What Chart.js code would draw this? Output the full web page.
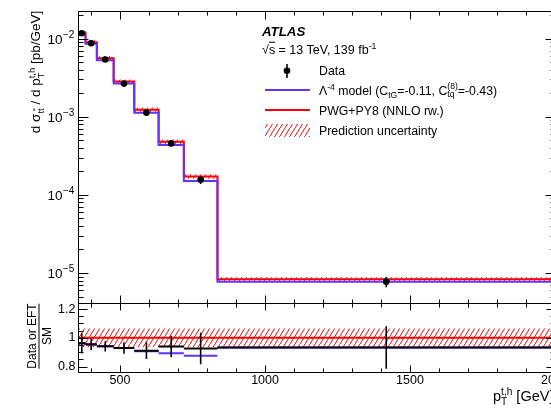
<!DOCTYPE html>
<html><head><meta charset="utf-8">
<script src="https://cdn.jsdelivr.net/npm/chart.js@4.4.1/dist/chart.umd.min.js"></script>
<style>
html,body{margin:0;padding:0;background:#fff;overflow:hidden;}
#wrap{position:relative;width:551px;height:410px;overflow:hidden;font-family:"Liberation Sans",Arial,Helvetica,sans-serif;color:#000;background:#fff;}
canvas{position:absolute;left:0;top:0;}
.t{position:absolute;white-space:nowrap;line-height:1;transform:translateY(-50%);}
.sup{font-size:70%;vertical-align:0.55em;line-height:0;}
.sub{font-size:70%;vertical-align:-0.35em;line-height:0;}
.ss{display:inline-block;font-size:70%;line-height:1;vertical-align:-0.4em;text-align:left;}
.ss span{display:block;}
.rot{position:absolute;white-space:nowrap;line-height:1;transform:translate(-50%,-50%) rotate(-90deg);}
</style></head>
<body>
<div id="wrap">
<canvas id="mainC" width="565" height="410"></canvas>
<canvas id="ratioC" width="565" height="410"></canvas>

<div class="rot" style="left:36px;top:72px;font-size:13.5px;">d σ<span class="sub">t<span style="text-decoration:overline">t</span></span> / d p<span class="ss"><span>t,h</span><span>T</span></span> [pb/GeV]</div>
<div class="rot" style="left:39px;top:336px;font-size:12px;text-align:center;"><div style="border-bottom:1px solid #000;padding-bottom:1px;">Data or EFT</div><div style="padding-top:1px;">SM</div></div>
<div class="t" style="left:493px;top:397px;font-size:14.5px;">p<span class="ss"><span>t,h</span><span>T</span></span> [GeV]</div>

<div class="t" style="left:262px;top:32px;font-size:13.3px;font-weight:bold;font-style:italic;">ATLAS</div>
<div class="t" style="left:262px;top:50px;font-size:12.5px;">√<span style="text-decoration:overline">s</span> = 13 TeV, 139 fb<span class="sup">-1</span></div>
<div class="t" style="left:319px;top:70.5px;font-size:12.3px;">Data</div>
<div class="t" style="left:319px;top:90.5px;font-size:12.3px;">Λ<span class="sup">-4</span> model (C<span class="sub">tG</span>=-0.11, C<span class="ss"><span>(8)</span><span>tq</span></span>=-0.43)</div>
<div class="t" style="left:319px;top:110.5px;font-size:12.3px;">PWG+PY8 (NNLO rw.)</div>
<div class="t" style="left:319px;top:130.5px;font-size:12.3px;">Prediction uncertainty</div>
<canvas id="legC" width="551" height="150" style="left:0;top:0;"></canvas>
</div>
<script>
// ---------- data ----------
const binEdges   = [355, 381, 420, 478, 549, 633, 720, 836, 2000];
const smPred     = [1.183e-2, 8.97e-3, 5.60e-3, 2.81e-3, 1.23e-3, 4.78e-4, 1.72e-4, 8.3e-6];
const eftPred    = [1.125e-2, 8.55e-3, 5.27e-3, 2.65e-3, 1.12e-3, 4.33e-4, 1.50e-4, 7.75e-6];
const dataXsec   = [1.17e-2, 8.7e-3, 5.4e-3, 2.65e-3, 1.125e-3, 4.55e-4, 1.56e-4, 7.75e-6];
const dataRelErr = [0.04, 0.03, 0.03, 0.035, 0.045, 0.05, 0.12, 0.15];
const predRelUnc = [0.065, 0.065, 0.065, 0.065, 0.065, 0.065, 0.065, 0.065];
const ratioData    = [0.962, 0.955, 0.941, 0.930, 0.911, 0.940, 0.926, 0.933];
const ratioDataErr = [0.070, 0.040, 0.035, 0.040, 0.058, 0.075, 0.110, 0.148];
const ratioEft     = [0.962, 0.953, 0.941, 0.930, 0.907, 0.893, 0.876, 0.933];
const ratioSm      = [1, 1, 1, 1, 1, 1, 1, 1];
const xTickValues  = [500, 1000, 1500, 2000];
const xTickLabels  = ['500', '1000', '1500', '2000'];
const yTickValues  = [1e-2, 1e-3, 1e-4, 1e-5];
const yTickExps    = ['\u22122', '\u22123', '\u22124', '\u22125'];
const ratioTickValues = [0.8, 1, 1.2];
const ratioTickLabels = ['0.8', '1', '1.2'];

const RED = '#ff0000', BLUE = '#6432ff';
const FONT = '"Liberation Sans", Arial, Helvetica, sans-serif';

const centers = binEdges.slice(0, -1).map((e, i) => (e + binEdges[i + 1]) / 2);
function stepPts(vals) {
  const p = vals.map((v, i) => ({x: binEdges[i], y: v}));
  p.push({x: binEdges[vals.length], y: vals[vals.length - 1]});
  return p;
}
function segPts(vals) {
  const p = [];
  vals.forEach((v, i) => { p.push({x: binEdges[i], y: v}, {x: binEdges[i + 1], y: v}, {x: binEdges[i + 1], y: null}); });
  return p;
}
function vbarPts(vals, lo, hi) {
  const p = [];
  vals.forEach((v, i) => { p.push({x: centers[i], y: lo[i]}, {x: centers[i], y: hi[i]}, {x: centers[i], y: null}); });
  return p;
}
function hatchPattern(ctx) {
  const c = document.createElement('canvas'); c.width = 5; c.height = 8;
  const g = c.getContext('2d');
  g.strokeStyle = RED; g.lineWidth = 1;
  g.beginPath(); g.moveTo(-5, 16); g.lineTo(10, -8); g.stroke();
  return ctx.createPattern(c, 'repeat');
}

function axesPlugin(cfg) {
  return {
    id: 'axesFrame',
    afterDraw(chart) {
      const {ctx, chartArea: a, scales} = chart;
      const xs = scales.x, ys = scales.y;
      ctx.save();
      ctx.strokeStyle = '#000'; ctx.lineWidth = 1;
      const L = Math.round(a.left) + 0.5, R = Math.round(a.right) + 0.5;
      const T = Math.round(a.top) + 0.5, B = Math.round(a.bottom) + 0.5;
      ctx.beginPath();
      ctx.moveTo(L, T); ctx.lineTo(R, T); ctx.lineTo(R, B); ctx.lineTo(L, B); ctx.closePath();
      for (let v = 400; v <= 2000; v += 100) {
        const px = Math.round(xs.getPixelForValue(v)) + 0.5;
        const len = (v % 500 === 0) ? cfg.xMaj : cfg.xMin;
        ctx.moveTo(px, B); ctx.lineTo(px, B - len);
        ctx.moveTo(px, T); ctx.lineTo(px, T + len);
      }
      cfg.yTicks(ys).forEach(([v, major]) => {
        const py = Math.round(ys.getPixelForValue(v)) + 0.5;
        const len = major ? cfg.yMaj : cfg.yMin;
        ctx.moveTo(L, py); ctx.lineTo(L + len, py);
        ctx.moveTo(R, py); ctx.lineTo(R - len, py);
      });
      ctx.stroke();
      ctx.fillStyle = '#000';
      cfg.labels(ctx, xs, ys, a);
      ctx.restore();
    }
  };
}

Chart.defaults.font.family = FONT;

// ---------------- main panel ----------------
const mctx = document.getElementById('mainC').getContext('2d');
const hatchMain = hatchPattern(mctx);
const yMin = 4.13e-6, yMax = 2.249e-2;
new Chart(mctx, {
  type: 'line',
  data: {
    datasets: [
      {data: centers.map((c, i) => ({x: c, y: dataXsec[i]})), showLine: false, pointRadius: 3.3, pointBackgroundColor: '#000', pointBorderWidth: 0, pointStyle: 'circle'},
      {data: vbarPts(dataXsec, dataXsec.map((v, i) => v * (1 - dataRelErr[i])), dataXsec.map((v, i) => v * (1 + dataRelErr[i]))), borderColor: '#000', borderWidth: 1.6, pointRadius: 0, spanGaps: false},
      {data: stepPts(eftPred), stepped: true, borderColor: BLUE, borderWidth: 2, pointRadius: 0},
      {data: stepPts(smPred), stepped: true, borderColor: RED, borderWidth: 2, pointRadius: 0},
      {data: stepPts(smPred.map((v, i) => v * (1 + predRelUnc[i]))), stepped: true, borderWidth: 0, borderColor: 'rgba(0,0,0,0)', pointRadius: 0, fill: '+1', backgroundColor: hatchMain},
      {data: stepPts(smPred.map((v, i) => v * (1 - predRelUnc[i]))), stepped: true, borderWidth: 0, borderColor: 'rgba(0,0,0,0)', pointRadius: 0, fill: false}
    ]
  },
  options: {
    responsive: false, animation: false, devicePixelRatio: 1,
    layout: {padding: {left: 0, right: 10, top: 11, bottom: 107}},
    plugins: {legend: {display: false}, tooltip: {enabled: false}, filler: {propagate: false}},
    scales: {
      x: {type: 'linear', min: 355, max: 2000, ticks: {display: false}, grid: {display: false}, border: {display: false}, afterFit: s => { s.height = 0; }},
      y: {type: 'logarithmic', min: yMin, max: yMax, ticks: {display: false}, grid: {display: false}, border: {display: false}, afterFit: s => { s.width = 78; }}
    }
  },
  plugins: [axesPlugin({
    xMaj: 8, xMin: 4, yMaj: 10, yMin: 5,
    yTicks: () => {
      const t = [];
      for (let k = -6; k <= -1; k++) for (let m = 1; m <= 9; m++) {
        const v = m * Math.pow(10, k);
        if (v >= yMin && v <= yMax) t.push([v, m === 1]);
      }
      return t;
    },
    labels: (ctx, xs, ys) => {
      yTickValues.forEach((v, i) => {
        const py = ys.getPixelForValue(v);
        ctx.font = '13.5px ' + FONT; ctx.textAlign = 'right'; ctx.textBaseline = 'middle';
        ctx.fillText('10', 62.5, py + 1.5);
        ctx.font = '10px ' + FONT; ctx.textAlign = 'left';
        ctx.fillText(yTickExps[i], 63, py - 3.5);
      });
    }
  })]
});

// ---------------- ratio panel ----------------
const rctx = document.getElementById('ratioC').getContext('2d');
const hatchRatio = hatchPattern(rctx);
new Chart(rctx, {
  type: 'line',
  data: {
    datasets: [
      {data: segPts(ratioData), borderColor: '#000', borderWidth: 2, pointRadius: 0, spanGaps: false},
      {data: vbarPts(ratioData, ratioData.map((v, i) => v - ratioDataErr[i]), ratioData.map((v, i) => v + ratioDataErr[i])), borderColor: '#000', borderWidth: 1.6, pointRadius: 0, spanGaps: false},
      {data: segPts(ratioEft), borderColor: BLUE, borderWidth: 2, pointRadius: 0, spanGaps: false},
      {data: stepPts(ratioSm), stepped: true, borderColor: RED, borderWidth: 2, pointRadius: 0},
      {data: stepPts(ratioSm.map((v, i) => v + predRelUnc[i])), stepped: true, borderWidth: 0, borderColor: 'rgba(0,0,0,0)', pointRadius: 0, fill: '+1', backgroundColor: hatchRatio},
      {data: stepPts(ratioSm.map((v, i) => v - predRelUnc[i])), stepped: true, borderWidth: 0, borderColor: 'rgba(0,0,0,0)', pointRadius: 0, fill: false}
    ]
  },
  options: {
    responsive: false, animation: false, devicePixelRatio: 1,
    layout: {padding: {left: 0, right: 10, top: 303, bottom: 38}},
    plugins: {legend: {display: false}, tooltip: {enabled: false}, filler: {propagate: false}},
    scales: {
      x: {type: 'linear', min: 355, max: 2000, ticks: {display: false}, grid: {display: false}, border: {display: false}, afterFit: s => { s.height = 0; }},
      y: {type: 'linear', min: 0.763, max: 1.242, ticks: {display: false}, grid: {display: false}, border: {display: false}, afterFit: s => { s.width = 78; }}
    }
  },
  plugins: [axesPlugin({
    xMaj: 7, xMin: 4, yMaj: 9, yMin: 5,
    yTicks: () => {
      const t = [];
      for (let j = 0; j <= 8; j++) t.push([0.8 + j * 0.05, j % 4 === 0]);
      return t;
    },
    labels: (ctx, xs, ys) => {
      ctx.font = '12.5px ' + FONT; ctx.textBaseline = 'middle';
      ctx.textAlign = 'right';
      ratioTickValues.forEach((v, i) => ctx.fillText(ratioTickLabels[i], 75.5, ys.getPixelForValue(v)));
      ctx.textAlign = 'center';
      xTickValues.forEach((v, i) => ctx.fillText(xTickLabels[i], xs.getPixelForValue(v), 381));
    }
  })]
});

// ---------------- legend symbols ----------------
const lg = document.getElementById('legC').getContext('2d');
lg.fillStyle = '#000'; lg.strokeStyle = '#000'; lg.lineWidth = 1.6;
lg.beginPath(); lg.moveTo(287, 64); lg.lineTo(287, 78); lg.stroke();
lg.beginPath(); lg.arc(287, 70.7, 3.3, 0, Math.PI * 2); lg.fill();
lg.lineWidth = 2;
lg.strokeStyle = BLUE; lg.beginPath(); lg.moveTo(265, 90); lg.lineTo(310, 90); lg.stroke();
lg.strokeStyle = RED; lg.beginPath(); lg.moveTo(265, 110); lg.lineTo(310, 110); lg.stroke();
lg.fillStyle = hatchPattern(lg); lg.fillRect(265, 124, 45, 13);
</script>
</body></html>
